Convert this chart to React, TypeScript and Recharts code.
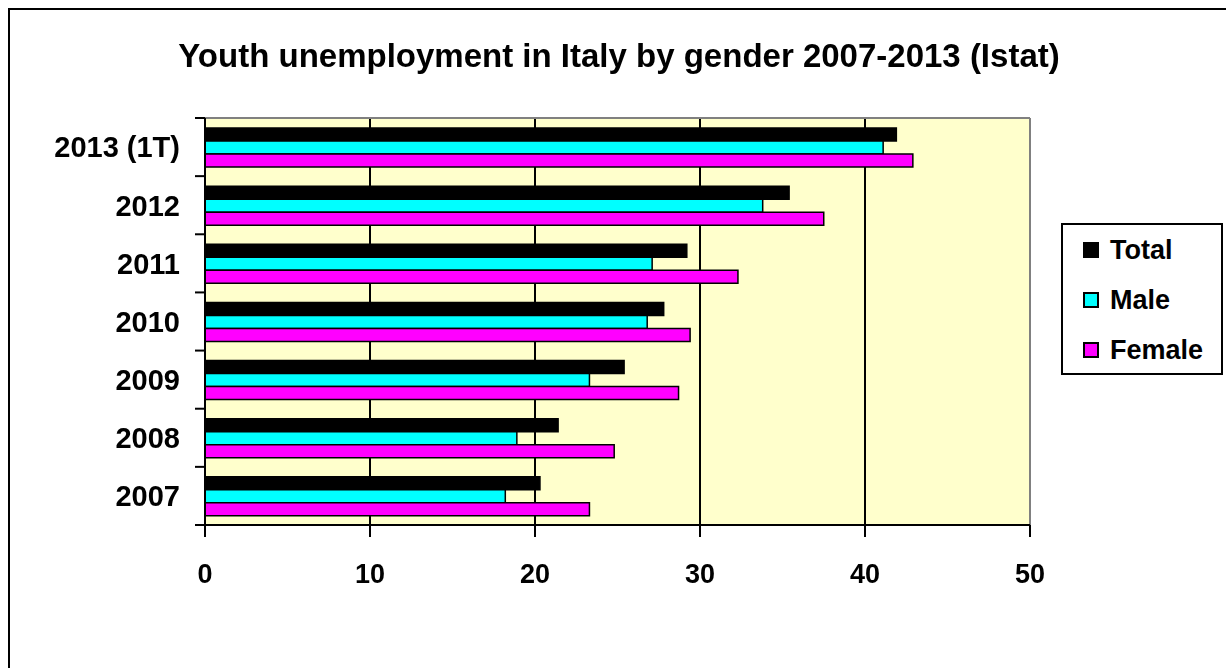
import { Bar, BarChart, CartesianGrid, XAxis, YAxis } from "recharts";

const years = ["2013 (1T)", "2012", "2011", "2010", "2009", "2008", "2007"];
const total = [41.9, 35.4, 29.2, 27.8, 25.4, 21.4, 20.3];
const male = [41.1, 33.8, 27.1, 26.8, 23.3, 18.9, 18.2];
const female = [42.9, 37.5, 32.3, 29.4, 28.7, 24.8, 23.3];
const xTicks = [0, 10, 20, 30, 40, 50];

const SERIES = [
  { key: "total", name: "Total", color: "#000000" },
  { key: "male", name: "Male", color: "#00FFFF" },
  { key: "female", name: "Female", color: "#FF00FF" },
];

const data = years.map((year, i) => ({
  year,
  total: total[i],
  male: male[i],
  female: female[i],
}));

const FONT = "'Liberation Sans', Arial, Helvetica, sans-serif";
const Y_TICK = 10;
const Y_MARGIN = 15;

function YearTick(props: any) {
  const { x, y, payload, index } = props;
  const half = payload.offset ?? 0;
  const x1 = x + Y_MARGIN;
  const x2 = x1 + Y_TICK;
  return (
    <g>
      <line x1={x1} x2={x2} y1={y - half} y2={y - half} stroke="#000" strokeWidth={2} />
      {index === years.length - 1 && (
        <line x1={x1} x2={x2} y1={y + half} y2={y + half} stroke="#000" strokeWidth={2} />
      )}
      <text
        x={x}
        y={y}
        dy="0.355em"
        textAnchor="end"
        fill="#000"
        fontSize={29}
        fontWeight="bold"
        fontFamily={FONT}
      >
        {payload.value}
      </text>
    </g>
  );
}

export default function App() {
  return (
    <div
      style={{
        position: "fixed",
        left: 8,
        top: 8,
        width: 1218,
        height: 660,
        background: "#fff",
        fontFamily: FONT,
      }}
    >
      <div
        style={{
          position: "absolute",
          inset: 0,
          borderLeft: "2px solid #000",
          borderTop: "2px solid #000",
          pointerEvents: "none",
        }}
      />
      <div
        style={{
          position: "absolute",
          left: 0,
          top: 31,
          width: 1222,
          textAlign: "center",
          fontSize: 33,
          lineHeight: "33px",
          fontWeight: "bold",
          color: "#000",
        }}
      >
        Youth unemployment in Italy by gender 2007-2013 (Istat)
      </div>

      <div style={{ position: "absolute", left: 0, top: 0 }}>
        <BarChart
          width={1218}
          height={660}
          data={data}
          layout="vertical"
          barSize={13}
          barGap={0}
          margin={{ top: 110, right: 196, bottom: 83, left: 7 }}
        >
          <CartesianGrid
            horizontal={false}
            stroke="#000"
            strokeWidth={2}
            fill="#FFFFCC"
            fillOpacity={1}
          />
          <CartesianGrid
            stroke="#808080"
            strokeWidth={2}
            horizontalCoordinatesGenerator={({ offset }: any) => [offset.top]}
            verticalCoordinatesGenerator={({ offset }: any) => [offset.left + offset.width]}
          />
          <XAxis
            type="number"
            domain={[0, 50]}
            ticks={xTicks}
            interval={0}
            height={60}
            tickSize={12}
            tickMargin={27}
            axisLine={{ stroke: "#000", strokeWidth: 2 }}
            tickLine={{ stroke: "#000", strokeWidth: 2 }}
            tick={{ fill: "#000", fontSize: 27, fontWeight: "bold", fontFamily: FONT }}
          />
          <YAxis
            type="category"
            dataKey="year"
            width={190}
            interval={0}
            tickSize={Y_TICK}
            tickMargin={Y_MARGIN}
            tickLine={false}
            axisLine={{ stroke: "#000", strokeWidth: 2 }}
            tick={<YearTick />}
          />
          {SERIES.map((s) => (
            <Bar
              key={s.key}
              dataKey={s.key}
              name={s.name}
              fill={s.color}
              stroke="#000"
              strokeWidth={1.5}
              isAnimationActive={false}
            />
          ))}
        </BarChart>
      </div>

      <div
        style={{
          position: "absolute",
          left: 1053,
          top: 215,
          width: 162,
          height: 152,
          boxSizing: "border-box",
          border: "2px solid #000",
          background: "#fff",
        }}
      >
        {SERIES.map((s) => (
          <div
            key={s.key}
            style={{ height: 50, display: "flex", alignItems: "center", paddingLeft: 20 }}
          >
            <span
              style={{
                width: 16,
                height: 16,
                boxSizing: "border-box",
                background: s.color,
                border: "2px solid #000",
                marginRight: 11,
              }}
            />
            <span style={{ fontSize: 27, fontWeight: "bold", color: "#000" }}>{s.name}</span>
          </div>
        ))}
      </div>
    </div>
  );
}
